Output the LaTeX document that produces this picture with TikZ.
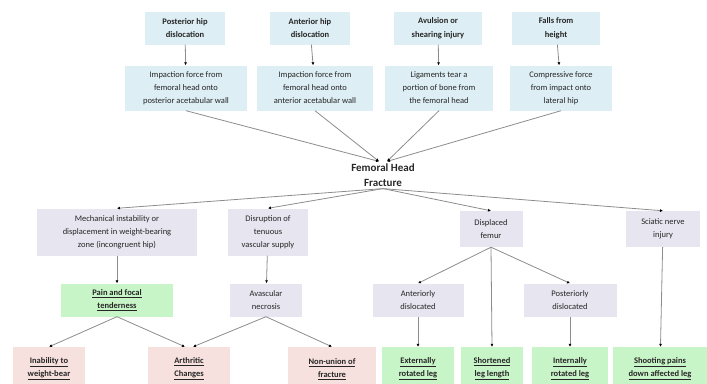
\documentclass[tikz,border=0pt]{standalone}
\usepackage{fontspec}
\setmainfont{Carlito}
\usepackage{tikz}
\usetikzlibrary{arrows.meta}

\definecolor{causeblue}{HTML}{DDEEF4}
\definecolor{mechlav}{HTML}{E7E5F0}
\definecolor{signgreen}{HTML}{C8F5C8}
\definecolor{comppink}{HTML}{F6E1DE}
\definecolor{linegray}{HTML}{8C8C8C}

\begin{document}
\begin{tikzpicture}[x=1pt, y=-1pt,
  base/.style={rectangle, inner sep=1pt, align=center, font=\fontsize{8.5}{13}\selectfont, text=black!85},
  cause/.style={base, fill=causeblue, font=\fontsize{8.5}{13.5}\selectfont\bfseries},
  force/.style={base, fill=causeblue},
  mech/.style={base, fill=mechlav},
  sign/.style={base, fill=signgreen, font=\fontsize{8.5}{13}\selectfont\bfseries},
  comp/.style={base, fill=comppink, font=\fontsize{8.5}{13}\selectfont\bfseries},
  arrow/.style={draw=linegray, line width=0.8pt, -{Latex[length=3pt,width=3pt,fill=black,color=black]}}
]
\useasboundingbox (0,0) rectangle (707,383);

% causes
\node[cause, minimum width=80, minimum height=33] (post) at (185,28) {Posterior hip\\dislocation};
\node[cause, minimum width=80, minimum height=33] (ant) at (310,28) {Anterior hip\\dislocation};
\node[cause, minimum width=88, minimum height=33] (avul) at (438,28) {Avulsion or\\shearing injury};
\node[cause, minimum width=88, minimum height=33] (fall) at (556,28) {Falls from\\height};

% mechanisms of force
\node[force, minimum width=122, minimum height=45] (imppost) at (186,88) {Impaction force from\\femoral head onto\\posterior acetabular wall};
\node[force, minimum width=116, minimum height=45] (impant) at (315,88) {Impaction force from\\femoral head onto\\anterior acetabular wall};
\node[force, minimum width=108, minimum height=45] (lig) at (439,88) {Ligaments tear a\\portion of bone from\\the femoral head};
\node[force, minimum width=102, minimum height=45] (compr) at (561,88) {Compressive force\\from impact onto\\lateral hip};

\node[align=center, inner sep=2pt, font=\fontsize{11}{15}\selectfont\bfseries, text=black!85] (fhf) at (383,175) {Femoral Head\\Fracture};

% consequences
\node[mech, minimum width=160, minimum height=47] (instab) at (117,232) {Mechanical instability or\\displacement in weight-bearing\\zone (incongruent hip)};
\node[mech, minimum width=80, minimum height=47] (disr) at (268,232) {Disruption of\\tenuous\\vascular supply};
\node[mech, minimum width=63, minimum height=36] (displ) at (491,229) {Displaced\\femur};
\node[mech, minimum width=74, minimum height=36] (sciat) at (663,229) {Sciatic nerve\\injury};

\node[sign, minimum width=112, minimum height=33] (pain) at (117,300) {\underline{Pain and focal}\\\underline{tenderness}};
\node[mech, minimum width=72, minimum height=33] (avn) at (266,300) {Avascular\\necrosis};
\node[mech, minimum width=91, minimum height=33] (antdis) at (418,300) {Anteriorly\\dislocated};
\node[mech, minimum width=93, minimum height=33] (postdis) at (570,300) {Posteriorly\\dislocated};

% outcomes
\node[comp, minimum width=72, minimum height=44] (inab) at (49,369) {\underline{Inability to}\\\underline{weight-bear}};
\node[comp, minimum width=82, minimum height=44] (arth) at (189,369) {\underline{Arthritic}\\\underline{Changes}};
\node[comp, minimum width=88, minimum height=44] (nonu) at (332,369) {\underline{Non-union of}\\\underline{fracture}};
\node[sign, minimum width=72, minimum height=44] (extrot) at (418,369) {\underline{Externally}\\\underline{rotated leg}};
\node[sign, minimum width=62, minimum height=44] (short) at (492,369) {\underline{Shortened}\\\underline{leg length}};
\node[sign, minimum width=76, minimum height=44] (introt) at (570,369) {\underline{Internally}\\\underline{rotated leg}};
\node[sign, minimum width=94, minimum height=44] (shoot) at (660,369) {\underline{Shooting pains}\\\underline{down affected leg}};

\draw[arrow] (post) -- (imppost);
\draw[arrow] (ant) -- (impant);
\draw[arrow] (avul) -- (lig);
\draw[arrow] (fall) -- (compr);

\draw[arrow] (imppost.south) -- ([xshift=-4pt]fhf.north);
\draw[arrow] (impant.south) -- ([xshift=-4pt]fhf.north);
\draw[arrow] (lig.south) -- ([xshift=4pt]fhf.north);
\draw[arrow] (compr.south) -- ([xshift=4pt]fhf.north);

\draw[arrow] (fhf.south) -- (instab.north);
\draw[arrow] (fhf.south) -- (disr.north);
\draw[arrow] (fhf.south) -- (displ.north);
\draw[arrow] (fhf.south) -- (sciat.north);

\draw[arrow] (instab) -- (pain);
\draw[arrow] (disr) -- (avn);
\draw[arrow] (pain.south) -- (inab.north);
\draw[arrow] (pain.south) -- ([xshift=-4pt]arth.north);
\draw[arrow] (avn.south) -- ([xshift=4pt]arth.north);
\draw[arrow] (avn.south) -- (nonu.north);

\draw[arrow] (displ.south) -- (antdis.north);
\draw[arrow] (displ.south) -- (short.north);
\draw[arrow] (displ.south) -- (postdis.north);
\draw[arrow] (antdis) -- (extrot);
\draw[arrow] (postdis) -- (introt);
\draw[arrow] (sciat) -- (shoot);
\end{tikzpicture}
\end{document}
